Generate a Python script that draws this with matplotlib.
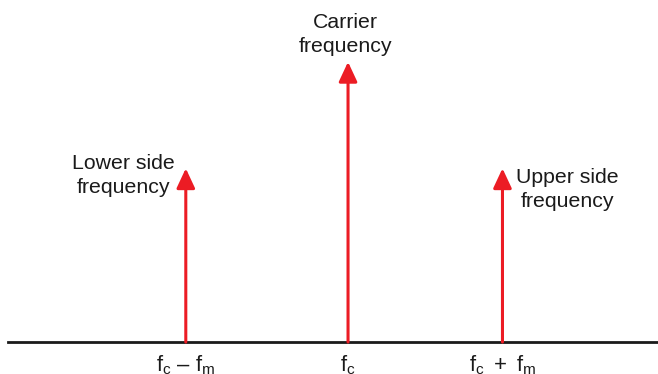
import matplotlib
matplotlib.use("Agg")
import matplotlib.pyplot as plt

plt.rcParams['font.family'] = ['Liberation Sans', 'DejaVu Sans']
plt.rcParams['mathtext.fontset'] = 'custom'
plt.rcParams['mathtext.rm'] = 'Liberation Sans'
plt.rcParams['mathtext.it'] = 'Liberation Sans'
plt.rcParams['mathtext.sf'] = 'Liberation Sans'

# Data (schematic AM spectrum)
freqs = [-1.04, 0.0, 0.99]            # relative to carrier, in units of fm
amplitudes = [0.62, 1.0, 0.62]        # relative amplitude
tick_labels = [r'$\mathregular{f_c\ –\ f_m}$', r'$\mathregular{f_c}$', r'$\mathregular{f_c\ +\ f_m}$']
annotations = ['Lower side\nfrequency', 'Carrier\nfrequency', 'Upper side\nfrequency']

RED = '#ec1c24'
TXT = '#1a1a1a'
FS = 15.3
LS = 1.34

fig = plt.figure(figsize=(6.58, 3.74), dpi=100)
ax = fig.add_axes([0, 0, 1, 1])
ax.set_xlim(-2.231, 1.987)
ax.set_ylim(-0.114, 1.221)
ax.axis('off')

# baseline
ax.axhline(0, xmin=8 / 658, xmax=1, color=TXT, lw=2.0, zorder=1)

for f, a in zip(freqs, amplitudes):
    ax.annotate('', xy=(f, a), xytext=(f, 0),
                arrowprops=dict(arrowstyle='-|>,head_length=0.6,head_width=0.28',
                                mutation_scale=20, color=RED, lw=2.2,
                                shrinkA=0, shrinkB=0), zorder=2)

for f, lab in zip(freqs, tick_labels):
    ax.annotate(lab, xy=(f, 0), xytext=(0, -8.5), textcoords='offset points',
                ha='center', va='top', fontsize=FS + 0.5, color=TXT)

# annotation texts
ax.annotate(annotations[0], xy=(freqs[0], amplitudes[0]), xytext=(-45, -5),
            textcoords='offset points', ha='center', va='center',
            fontsize=FS, color=TXT, linespacing=LS)
ax.annotate(annotations[1], xy=(freqs[1], amplitudes[1]), xytext=(-2, 19.5),
            textcoords='offset points', ha='center', va='center',
            fontsize=FS, color=TXT, linespacing=LS)
ax.annotate(annotations[2], xy=(freqs[2], amplitudes[2]), xytext=(47, -15),
            textcoords='offset points', ha='center', va='center',
            fontsize=FS, color=TXT, linespacing=LS)

fig.savefig('out.png', dpi=100)
